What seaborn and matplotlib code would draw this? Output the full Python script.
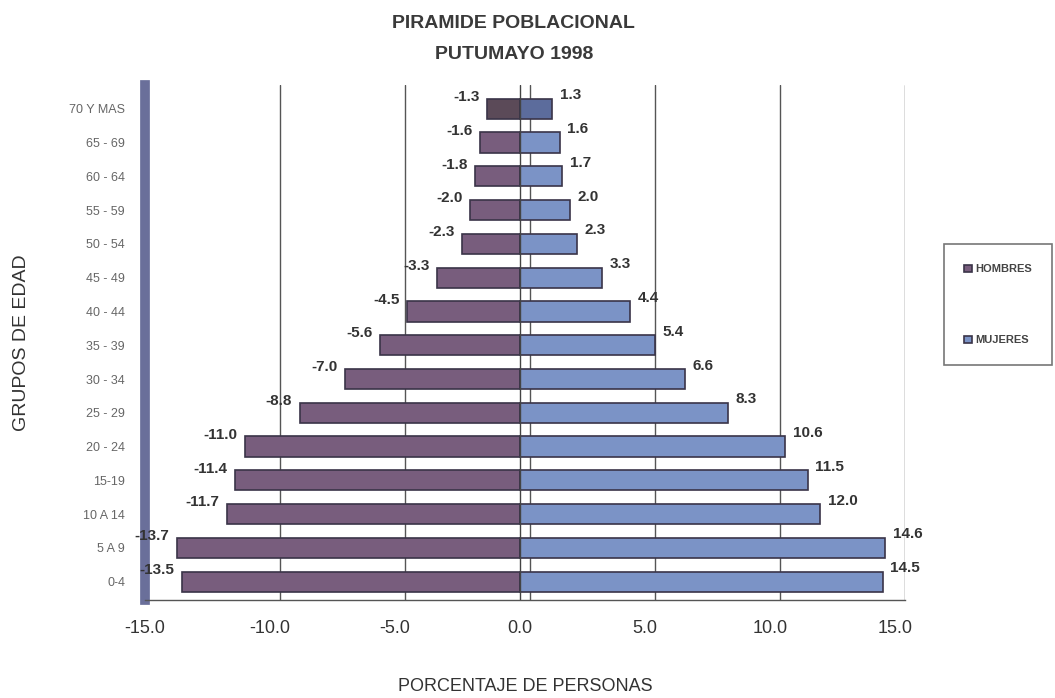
import numpy as np
import pandas as pd
import matplotlib
matplotlib.use("Agg")
import matplotlib.pyplot as plt
import seaborn as sns

# ================= DATA =================
grupos = ["70 Y MAS", "65 - 69", "60 - 64", "55 - 59", "50 - 54", "45 - 49",
          "40 - 44", "35 - 39", "30 - 34", "25 - 29", "20 - 24", "15-19",
          "10 A 14", "5 A 9", "0-4"]
hombres = [-1.3, -1.6, -1.8, -2.0, -2.3, -3.3, -4.5, -5.6, -7.0, -8.8,
           -11.0, -11.4, -11.7, -13.7, -13.5]
mujeres = [1.3, 1.6, 1.7, 2.0, 2.3, 3.3, 4.4, 5.4, 6.6, 8.3,
           10.6, 11.5, 12.0, 14.6, 14.5]
x_ticks = [-15, -10, -5, 0, 5, 10, 15]

df = pd.DataFrame({
    "grupo": grupos * 2,
    "valor": hombres + mujeres,
    "sexo": ["HOMBRES"] * len(grupos) + ["MUJERES"] * len(grupos),
})

# ================= STYLE =================
sns.set_theme(style="white")
plt.rcParams["font.family"] = ["Liberation Sans", "DejaVu Sans"]

col_h = "#7b5882"
col_m = "#6f8fd2"

fig = plt.figure(figsize=(10.55, 6.98), dpi=100)
ax = fig.add_axes([0.137, 0.140, 0.721, 0.738])

sns.barplot(data=df, y="grupo", x="valor", hue="sexo", order=grupos,
            hue_order=["HOMBRES", "MUJERES"], palette=[col_h, col_m],
            dodge=False, width=0.6, orient="h", ax=ax,
            edgecolor="#3a3448", linewidth=1.2)

# top bar is darker in the original
for p in ax.patches:
    if p.get_height() > 0 and abs(p.get_y() + p.get_height() / 2) < 0.01:
        if p.get_x() < 0 or p.get_width() < 0:
            p.set_facecolor("#5b4a58")
        else:
            p.set_facecolor("#5c6c9c")

# ================= LABELS =================
for i, (h, m) in enumerate(zip(hombres, mujeres)):
    ax.text(h - 0.3, i - 0.35, f"{h:.1f}", ha="right", va="center",
            fontsize=11, fontweight="bold", color="#333333")
    ax.text(m + 0.3, i - 0.4, f"{m:.1f}", ha="left", va="center",
            fontsize=11, fontweight="bold", color="#333333")

# ================= AXES =================
ax.set_xlim(-15, 15.4)
ax.set_ylim(len(grupos) - 0.45, -0.7)
ax.set_xticks(x_ticks)
ax.set_xticklabels([f"{t:.1f}" for t in x_ticks], fontsize=13, color="#333333")
ax.tick_params(axis="x", pad=14, length=0)
ax.tick_params(axis="y", labelsize=9, colors="#666666", length=0, pad=14)
ax.set_yticks(range(len(grupos)))
ax.set_yticklabels(grupos)

for t in x_ticks[1:]:
    ax.axvline(t + 0.4, color="#555555", linewidth=1, zorder=0)
ax.axvline(0, color="#444444", linewidth=1, zorder=3)

for s in ["top", "right"]:
    ax.spines[s].set_visible(False)
ax.spines["left"].set_color("#6a6f9a")
ax.spines["left"].set_linewidth(7)
ax.spines["bottom"].set_color("#555555")
ax.spines["bottom"].set_linewidth(1)

ax.set_xlabel("PORCENTAJE DE PERSONAS", fontsize=13, color="#333333", labelpad=30)
ax.set_ylabel("GRUPOS DE EDAD", fontsize=14, color="#333333", labelpad=28)

fig.text(0.487, 0.967, "PIRAMIDE POBLACIONAL", ha="center", va="center",
         fontsize=14, fontweight="bold", color="#3a3a3a")
fig.text(0.487, 0.922, "PUTUMAYO 1998", ha="center", va="center",
         fontsize=14, fontweight="bold", color="#3a3a3a")

# ================= LEGEND =================
ax.get_legend().remove()
handles, labels = ax.get_legend_handles_labels()
leg = fig.legend(handles, labels, loc="upper left",
                 bbox_to_anchor=(0.895, 0.650), frameon=True,
                 fontsize=8, handlelength=0.7, handleheight=0.7,
                 labelspacing=5.5, borderpad=1.8, fancybox=False,
                 handletextpad=0.3, borderaxespad=0)
leg.get_frame().set_edgecolor("#555555")
leg.get_frame().set_linewidth(1.2)
for t in leg.get_texts():
    t.set_color("#444444")
    t.set_fontweight("bold")

fig.savefig("out.png", dpi=100)
